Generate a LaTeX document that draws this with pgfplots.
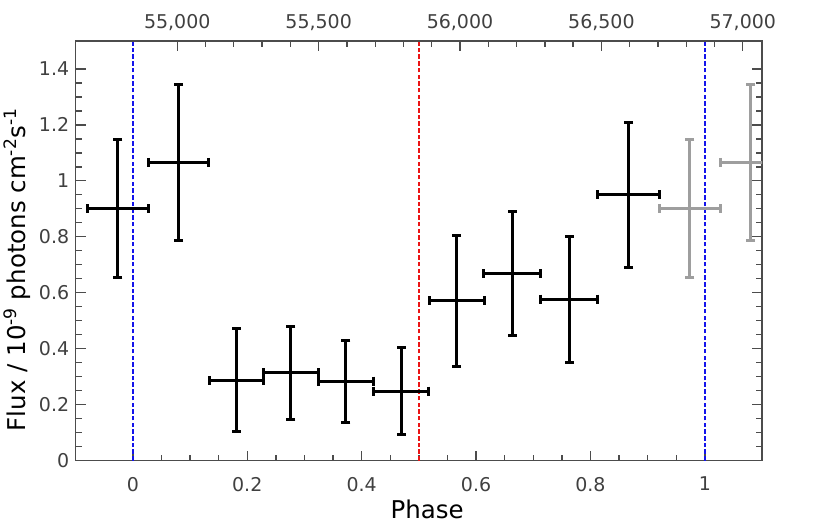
\documentclass[border=0pt]{standalone}
\usepackage{fontspec}
\setmainfont{DejaVu Sans}
\usepackage{pgfplots}
\pgfplotsset{compat=1.18}
\usepackage{pgfplotstable}

\definecolor{spine}{gray}{0.3}
\definecolor{ticklab}{gray}{0.25}
\definecolor{lightpt}{gray}{0.62}
\definecolor{vblue}{RGB}{20,20,235}
\definecolor{vred}{RGB}{235,20,20}

\pgfplotstableread{
x       y      ex      ey
-0.026  0.901  0.0535  0.246
0.080   1.066  0.0530  0.280
0.181   0.287  0.0470  0.184
0.2764  0.314  0.0485  0.166
0.3724  0.284  0.0480  0.147
0.469   0.248  0.0486  0.156
0.5661  0.571  0.0480  0.233
0.6632  0.668  0.0497  0.222
0.7627  0.577  0.0493  0.225
0.8668  0.950  0.0545  0.259
}\mainpts

\pgfplotstableread{
x       y      ex      ey
0.974   0.901  0.0535  0.246
1.080   1.066  0.0530  0.280
}\repeatpts

\pgfplotsset{
  common/.style={
    scale only axis, width=687bp, height=420bp,
    tick align=inside,
    major tick length=10bp, minor tick length=6bp,
    axis line style={spine, line width=1.6bp},
    every tick/.style={spine, line width=1.3bp},
    tick label style={font=\fontsize{19bp}{22bp}\selectfont, text=ticklab},
    /pgf/number format/assume math mode=true,
  },
  seg/.style={#1, line width=3bp, mark=none, solid},
  cap/.style 2 args={#1, only marks, mark=#2, mark size=4.5bp,
    mark options={line width=3bp, solid, draw=#1}},
  vline/.style={#1, line width=1.5bp, dash pattern=on 4.5bp off 2.2bp},
}

% error crosses: horizontal bin bar, vertical flux bar, caps at the ends
\newcommand\crosses[2]{%
  \addplot[seg=#2, quiver={u=2*\thisrow{ex}, v=0}]
    table[x expr=\thisrow{x}-\thisrow{ex}, y=y] {#1};
  \addplot[seg=#2, quiver={u=0, v=2*\thisrow{ey}}]
    table[x=x, y expr=\thisrow{y}-\thisrow{ey}] {#1};
  \addplot[cap={#2}{|}] table[x expr=\thisrow{x}-\thisrow{ex}, y=y] {#1};
  \addplot[cap={#2}{|}] table[x expr=\thisrow{x}+\thisrow{ex}, y=y] {#1};
  \addplot[cap={#2}{-}] table[x=x, y expr=\thisrow{y}-\thisrow{ey}] {#1};
  \addplot[cap={#2}{-}] table[x=x, y expr=\thisrow{y}+\thisrow{ey}] {#1};
}

\begin{document}
\begin{tikzpicture}
\begin{axis}[common, name=ax,
  xmin=-0.1, xmax=1.1, ymin=0, ymax=1.5,
  xtick={0,0.2,0.4,0.6,0.8,1},
  ytick={0,0.2,0.4,0.6,0.8,1,1.2,1.4},
  minor x tick num=3, minor y tick num=3,
  xtick pos=left, ytick pos=both,
  xticklabel style={yshift=-13bp},
  yticklabel style={xshift=-3bp},
  xlabel={Phase},
  ylabel={Flux / 10\textsuperscript{-9} photons cm\textsuperscript{-2}s\textsuperscript{-1}},
  label style={font=\fontsize{24.5bp}{28bp}\selectfont, text=black},
  xlabel style={at={(ticklabel cs:0.512)}, yshift=-2bp},
  ylabel style={at={(ticklabel cs:0.455)}, yshift=2bp},
]
\addplot[vline=vblue] coordinates {(0,0) (0,1.5)};
\addplot[vline=vblue] coordinates {(1,0) (1,1.5)};
\addplot[vline=vred] coordinates {(0.5,0) (0.5,1.5)};
\crosses{\repeatpts}{lightpt}
\crosses{\mainpts}{black}
\end{axis}

\begin{axis}[common, at={(ax.south west)}, anchor=south west,
  xmin=54640.6, xmax=57068.2, ymin=0, ymax=1,
  axis x line*=top, axis y line=none,
  tick align=inside,
  xtick={55000,55500,56000,56500,57000},
  minor x tick num=4,
  scaled x ticks=false,
  /pgf/number format/1000 sep={,},
  xticklabel style={yshift=7bp},
]
\addplot[draw=none] coordinates {(55000,0.5)};
\end{axis}

\path[use as bounding box] ([shift={(-75bp,-63bp)}]ax.south west) rectangle ([shift={(68bp,41bp)}]ax.north east);
\end{tikzpicture}
\end{document}
